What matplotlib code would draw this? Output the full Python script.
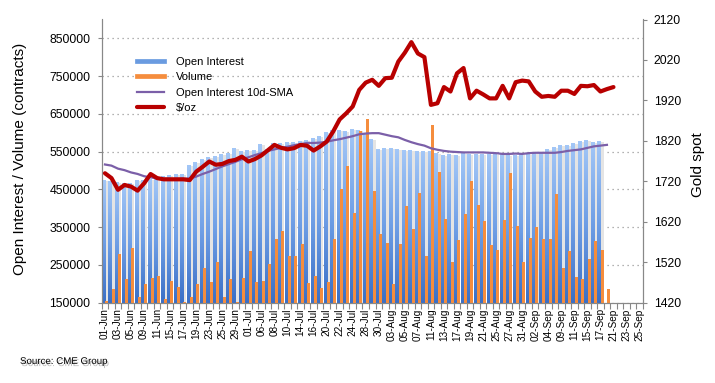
import numpy as np
import pandas as pd
import matplotlib
matplotlib.use("Agg")
import matplotlib.pyplot as plt
from matplotlib.colors import LinearSegmentedColormap
from matplotlib.lines import Line2D
import matplotlib.patheffects as pe

plt.rcParams['font.family'] = ['Liberation Sans', 'DejaVu Sans']

# ---- categories (trading days, 01-Jun .. 25-Sep 2020) ----
days = pd.bdate_range('2020-06-01', '2020-09-25')
days = days[~days.isin(pd.to_datetime(['2020-07-03', '2020-09-07']))]
date_labels = [d.strftime('%d-%b') for d in days]

# ---- series ----
open_interest = [475000, 472000, 469000, 467000, 467000, 475000, 475000, 478000, 482000, 486000,
                 488000, 491000, 491000, 514000, 522000, 530000, 536000, 538000, 544000, 547000,
                 559000, 552000, 554000, 555000, 569000, 557000, 572000, 572000, 576000, 576000,
                 579000, 580000, 585000, 591000, 601000, 607000, 606000, 603000, 609000, 607000,
                 598000, 583000, 557000, 558000, 558000, 556000, 555000, 553000, 550000, 552000,
                 550000, 547000, 541000, 544000, 541000, 545000, 544000, 544000, 544000, 544000,
                 544000, 544000, 541000, 541000, 544000, 544000, 545000, 547000, 557000, 561000,
                 567000, 567000, 572000, 578000, 581000, 575000, 578000]
volume = [154000, 186000, 279000, 213000, 296000, 166000, 200000, 216000, 221000, 160000,
          207000, 192000, 152000, 166000, 200000, 243000, 206000, 258000, 166000, 213000,
          153000, 216000, 288000, 206000, 207000, 253000, 320000, 340000, 274000, 274000,
          306000, 203000, 221000, 190000, 206000, 319000, 451000, 512000, 388000, 605000,
          636000, 446000, 332000, 309000, 200000, 305000, 407000, 345000, 440000, 274000,
          621000, 497000, 372000, 259000, 316000, 385000, 472000, 409000, 366000, 303000,
          290000, 369000, 494000, 353000, 259000, 322000, 351000, 319000, 319000, 438000,
          243000, 288000, 218000, 213000, 265000, 314000, 290000, 186000]
oi_sma10 = [516000, 513000, 505000, 501000, 495000, 491000, 485000, 482000, 479000, 477000,
            477000, 477000, 478000, 479000, 484000, 491000, 497000, 504000, 511000, 517000,
            523000, 530000, 535000, 541000, 546000, 552000, 556000, 560000, 563000, 567000,
            570000, 573000, 573000, 574000, 576000, 580000, 583000, 587000, 591000, 596000,
            598000, 599000, 599000, 595000, 591000, 588000, 581000, 575000, 570000, 566000,
            559000, 555000, 552000, 550000, 549000, 548000, 548000, 548000, 548000, 547000,
            546000, 544000, 544000, 545000, 544000, 546000, 547000, 547000, 547000, 547000,
            549000, 552000, 554000, 556000, 560000, 564000, 566000, 568000]
gold = [1740, 1728, 1699, 1711, 1707, 1697, 1715, 1738, 1728, 1725,
        1725, 1725, 1725, 1723, 1744, 1756, 1769, 1761, 1763, 1770,
        1773, 1781, 1769, 1775, 1784, 1797, 1810, 1803, 1799, 1802,
        1810, 1808, 1796, 1806, 1818, 1843, 1873, 1888, 1905, 1946,
        1964, 1971, 1956, 1975, 1976, 2016, 2038, 2064, 2036, 2027,
        1909, 1913, 1953, 1942, 1987, 2000, 1925, 1944, 1935, 1925,
        1925, 1956, 1925, 1965, 1969, 1967, 1942, 1929, 1931, 1929,
        1944, 1944, 1936, 1956, 1955, 1958, 1942, 1948, 1953]

left_ticks = list(range(150000, 900000, 100000))
right_ticks = list(range(1420, 2121, 100))

W, H = 715, 383
fig = plt.figure(figsize=(W / 100, H / 100), dpi=100)
ax = fig.add_axes([101.7 / W, 1 - 302.7 / H, (642.8 - 101.7) / W, (302.7 - 19.5) / H])
ax2 = ax.twinx()

n = len(date_labels)
x = np.arange(n)
xo = np.arange(len(open_interest))
xv = np.arange(len(volume))
ymin, ymax = 150000, 900000

# shadow of OI bars
ax.bar(xo + 0.28, np.array(open_interest) - 2000, width=0.45, color='#e4e4e4', zorder=1, linewidth=0)
oi_bars = ax.bar(xo - 0.2, open_interest, width=0.52, color='#6a9be0', zorder=2, linewidth=0)
vol_bars = ax.bar(xv + 0.27, volume, width=0.46, color='#f58d3d', zorder=4, linewidth=0)

blue_cmap = LinearSegmentedColormap.from_list('blue', ['#3a6fc6', '#6f9fe6', '#a3c7f7'])
grad = np.linspace(0, 1, 256).reshape(-1, 1)
for p in oi_bars.patches:
    x0, w, h = p.get_x(), p.get_width(), p.get_height()
    ax.imshow(grad, extent=(x0, x0 + w, ymin, h), origin='lower', cmap=blue_cmap,
              aspect='auto', interpolation='bilinear', zorder=3)

ax.plot(np.arange(len(oi_sma10)), oi_sma10, color='#7b5fa8', lw=1.6, zorder=5)
ax2.plot(np.arange(len(gold)), gold, color='#b80000', lw=3.0, zorder=6,
         solid_joinstyle='round', solid_capstyle='round')

ax.set_xlim(-0.5, n - 0.5)
ax.set_ylim(ymin, ymax)
ax2.set_ylim(1420, 2120)
ax.set_yticks(left_ticks)
ax.set_yticklabels([str(v) for v in left_ticks])
ax2.set_yticks(right_ticks)
ax2.set_yticklabels([str(v) for v in right_ticks])

ax.set_xticks(x[::2])
ax.set_xticklabels(date_labels[::2], rotation=90, fontsize=7.2)
ax.set_xticks(np.arange(-0.5, n, 1), minor=True)
ax.tick_params(axis='x', which='major', length=0, pad=4)
ax.tick_params(axis='x', which='minor', length=4, color='#888888', width=0.8)

ax.yaxis.grid(True, linestyle=(0, (1, 3)), color='#999999', lw=0.9)
ax.set_axisbelow(True)

for a in (ax, ax2):
    for s in a.spines.values():
        s.set_color('#888888')
    a.spines['top'].set_visible(False)
ax.tick_params(axis='y', labelsize=8.8, length=3, color='#888888', pad=5)
ax2.tick_params(axis='y', labelsize=8.8, length=3, color='#888888', pad=5)

fig.text(20 / W, 1 - 159 / H, 'Open Interest / Volume (contracts)', rotation=90,
         ha='center', va='center', fontsize=11)
fig.text(698 / W, 1 - 165 / H, 'Gold spot', rotation=90, ha='center', va='center', fontsize=11)
fig.text(20 / W, 1 - 361 / H, 'Source: CME Group', ha='left', va='center', fontsize=7,
         path_effects=[pe.withSimplePatchShadow(offset=(1, -1.5), shadow_rgbFace='#777777', alpha=0.5)])

handles = [Line2D([], [], color='#6a9be0', lw=3.4),
           Line2D([], [], color='#f58d3d', lw=3.4),
           Line2D([], [], color='#7b5fa8', lw=1.6),
           Line2D([], [], color='#b80000', lw=3.0, solid_capstyle='round')]
labels = ['Open Interest', 'Volume', 'Open Interest 10d-SMA', '$/oz']
ax2.legend(handles, labels, loc='upper left', bbox_to_anchor=(137 / W, 1 - 57 / H),
           bbox_transform=fig.transFigure, frameon=False, fontsize=8,
           handlelength=2.45, handletextpad=1.05, labelspacing=0.48, borderpad=0, borderaxespad=0)

fig.savefig('out.png', dpi=100)
